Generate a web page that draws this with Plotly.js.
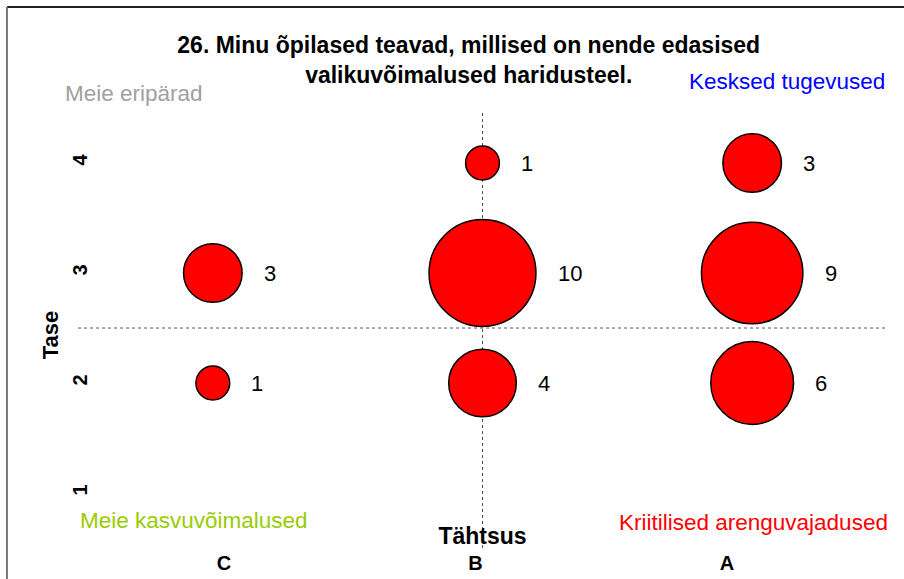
<!DOCTYPE html>
<html>
<head>
<meta charset="utf-8">
<script src="https://cdn.plot.ly/plotly-3.0.1.min.js"></script>
<style>
  html, body { margin: 0; padding: 0; background: #ffffff; }
  #chart { width: 904px; height: 579px; }
</style>
</head>
<body>
<div id="chart"></div>
<script>
// ---- data ----
const categories = ['C', 'B', 'A'];           // Tähtsus
const levels = [1, 2, 3, 4];                  // Tase
const pointCategory = ['C', 'C', 'B', 'B', 'B', 'A', 'A', 'A'];
const pointLevel    = [3,   2,   4,   3,   2,   4,   3,   2];
const pointCount    = [3,   1,   1,   10,  4,   3,   9,   6];

const titleText = '26. Minu õpilased teavad, millised on nende edasised<br>valikuvõimalused haridusteel.';
const xTitle = 'Tähtsus';
const yTitle = 'Tase';
const quadrantLabels = ['Meie eripärad', 'Kesksed tugevused', 'Meie kasvuvõimalused', 'Kriitilised arenguvajadused'];

// ---- style ----
const FONT = 'Liberation Sans, Arial, sans-serif';
const SIZEREF = 0.00175;
const LINE_W = 1.5;

const bubbles = {
  type: 'scatter',
  mode: 'markers',
  x: pointCategory,
  y: pointLevel,
  marker: {
    size: pointCount,
    sizemode: 'area',
    sizeref: SIZEREF,
    color: '#ff0000',
    opacity: 1,
    line: { color: '#000000', width: LINE_W }
  },
  hoverinfo: 'x+y+text',
  text: pointCount.map(String),
  showlegend: false,
  cliponaxis: false
};

// carrier trace for the category tick-label axis (draws nothing)
const labelAxisTrace = {
  type: 'scatter',
  mode: 'markers',
  xaxis: 'x2',
  yaxis: 'y',
  x: categories.map((c, i) => i),
  y: categories.map(() => null),
  marker: { opacity: 0 },
  hoverinfo: 'skip',
  showlegend: false
};

// value labels to the right of each bubble
const valueAnnotations = pointCount.map((v, i) => {
  const r = Math.sqrt(v / (2 * SIZEREF));
  return {
    xref: 'x', yref: 'y',
    x: categories.indexOf(pointCategory[i]),
    y: pointLevel[i],
    text: String(v),
    showarrow: false,
    xanchor: 'left', yanchor: 'middle',
    xshift: r + LINE_W / 2 + 19,
    font: { family: FONT, size: 22, color: '#000000' }
  };
});

const quadColors = ['#a0a0a0', '#0000ff', '#99cc00', '#ff0000'];
const quadPos = [
  { x: -0.0185, y: 1.128, xanchor: 'left' },
  { x: 1.0, y: 1.159, xanchor: 'right' },
  { x: 0.0, y: 0.018, xanchor: 'left' },
  { x: 1.0037, y: 0.013, xanchor: 'right' }
];
const quadAnnotations = quadrantLabels.map((t, i) => ({
  xref: 'paper', yref: 'paper',
  x: quadPos[i].x, y: quadPos[i].y,
  xanchor: quadPos[i].xanchor, yanchor: 'middle',
  text: t, showarrow: false,
  font: { family: FONT, size: 22.5, color: quadColors[i] }
}));

const midCategory = categories.indexOf('B');
const midLevel = (levels[0] + levels[levels.length - 1]) / 2;

const layout = {
  width: 904,
  height: 579,
  margin: { l: 78, r: 17, t: 143, b: 52 },
  paper_bgcolor: '#ffffff',
  plot_bgcolor: 'rgba(0,0,0,0)',
  font: { family: FONT, color: '#000000' },
  title: {
    text: '<b>' + titleText + '</b>',
    font: { family: FONT, size: 23, color: '#000000' },
    xref: 'paper', x: 0.483, xanchor: 'center',
    yref: 'container', y: 0.909, yanchor: 'middle'
  },
  xaxis: {
    type: 'category',
    categoryorder: 'array',
    categoryarray: categories,
    range: [-0.5, 2.5],
    showticklabels: false,
    ticks: '',
    showgrid: false, zeroline: false, showline: false,
    title: { text: '<b>' + xTitle + '</b>', font: { family: FONT, size: 23, color: '#000000' }, standoff: 0 }
  },
  xaxis2: {
    overlaying: 'x',
    anchor: 'y',
    side: 'bottom',
    type: 'linear',
    range: [-0.5805, 2.636],
    tickmode: 'array',
    tickvals: categories.map((c, i) => i),
    ticktext: categories.map(c => '<b>' + c + '</b>'),
    tickfont: { family: FONT, size: 20, color: '#000000' },
    ticklabelstandoff: 22,
    ticks: '',
    showgrid: false, zeroline: false, showline: false
  },
  yaxis: {
    range: [0.691, 4.182],
    tickmode: 'array',
    tickvals: levels,
    ticktext: levels.map(v => '<b>' + v + '</b>'),
    tickangle: -90,
    tickfont: { family: FONT, size: 20, color: '#000000' },
    ticklabelstandoff: -14,
    ticks: '',
    showgrid: false, zeroline: false, showline: false,
    title: { text: '<b>' + yTitle + '</b>', font: { family: FONT, size: 22, color: '#000000' }, standoff: 4 }
  },
  shapes: [
    // quadrant divider lines
    { type: 'line', layer: 'below', xref: 'x', yref: 'paper', x0: midCategory, x1: midCategory, y0: -0.0547, y1: 1.086,
      line: { color: '#555555', width: 1, dash: 'dot' } },
    { type: 'line', layer: 'below', xref: 'paper', yref: 'y', x0: 0, x1: 1.0, y0: midLevel, y1: midLevel,
      line: { color: '#555555', width: 1, dash: 'dot' } },
    // frame (top and left border)
    { type: 'line', xref: 'paper', yref: 'paper', x0: -0.0878, x1: 1.03, y0: 1.354, y1: 1.354,
      line: { color: '#222222', width: 2 } },
    { type: 'line', xref: 'paper', yref: 'paper', x0: -0.0878, x1: -0.0878, y0: 1.354, y1: -0.2,
      line: { color: '#777777', width: 2 } }
  ],
  annotations: valueAnnotations.concat(quadAnnotations),
  showlegend: false
};

Plotly.newPlot('chart', [bubbles, labelAxisTrace], layout, { displayModeBar: false, staticPlot: true });
</script>
</body>
</html>
